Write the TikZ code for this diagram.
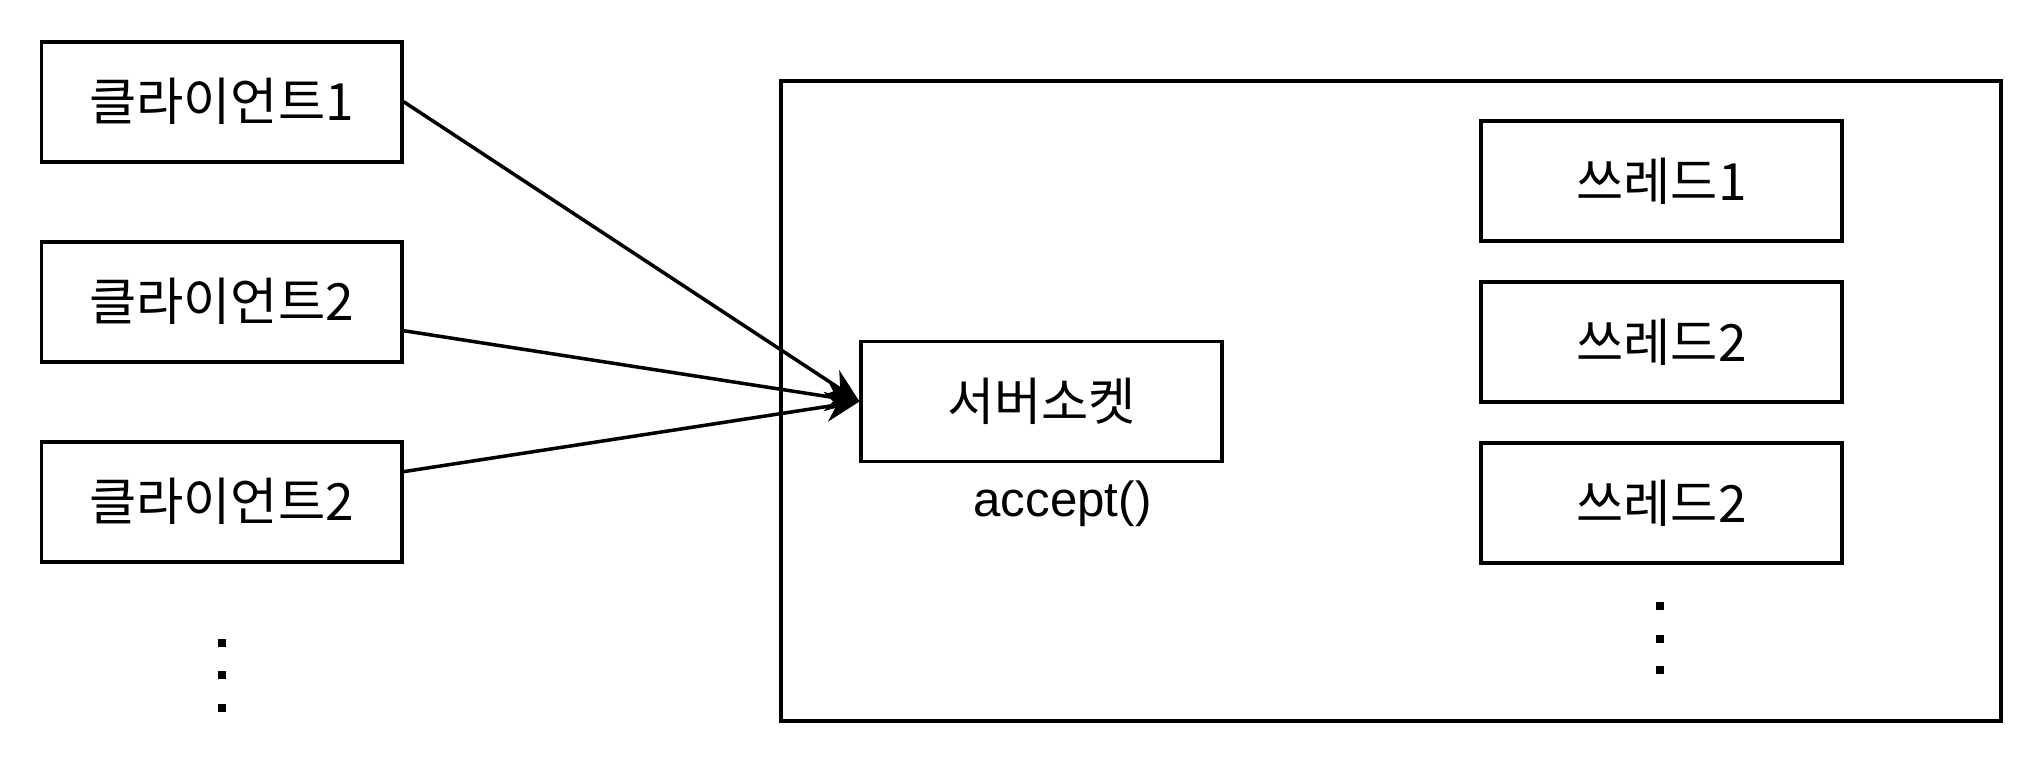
\documentclass[tikz,border=0pt]{standalone}
\usepackage{fontspec}
\setmainfont{Liberation Sans}
\newfontfamily\krfont{Noto Sans CJK KR}
\usetikzlibrary{positioning, arrows.meta}

\begin{document}
\begin{tikzpicture}[x=0.01cm, y=-0.01cm, node distance=0.76cm,
  box/.style={draw, line width=1.1pt, minimum width=3.6cm, minimum height=1.2cm,
              inner sep=0pt, font=\fontsize{14.6}{17}\selectfont\krfont},
  frame/.style={draw, line width=1.1pt, minimum width=12.2cm, minimum height=6.4cm, inner sep=0pt},
  arr/.style={-{Stealth[length=0.34cm, width=0.3cm]}, line width=1pt},
  vdots/.style={fill, minimum size=0.08cm, inner sep=0pt}]
  \useasboundingbox (0,0) rectangle (2044,772);
  % clients
  \node[box] (cli1) at (221.6,101.7) {클라이언트1};
  \node[box, below=of cli1] (cli2) {클라이언트2};
  \node[box, below=of cli2] (cli3) {클라이언트2};
  % server side
  \node[frame] (server) at (1391,401) {};
  \node[box] (sock) at (1041.5,401.5) {서버소켓};
  \node[below=0.05cm of sock, xshift=0.21cm, font=\fontsize{14}{17}\selectfont] (acc) {accept()};
  \node[box] (th1) at (1661.5,181) {쓰레드1};
  \node[box, below=0.37cm of th1] (th2) {쓰레드2};
  \node[box, below=0.37cm of th2] (th3) {쓰레드2};
  % connections
  \draw[arr] (cli1.east) -- (sock.west);
  \draw[arr] ([yshift=-0.29cm]cli2.east) -- (sock.west);
  \draw[arr] ([yshift=0.30cm]cli3.east) -- (sock.west);
  % dots
  \foreach \y in {643,675,708}
    \fill (217.6,\y-4) rectangle +(8,8);
  \foreach \y in {606,639,670}
    \fill (1655.5,\y-4) rectangle +(8,8);
\end{tikzpicture}
\end{document}
